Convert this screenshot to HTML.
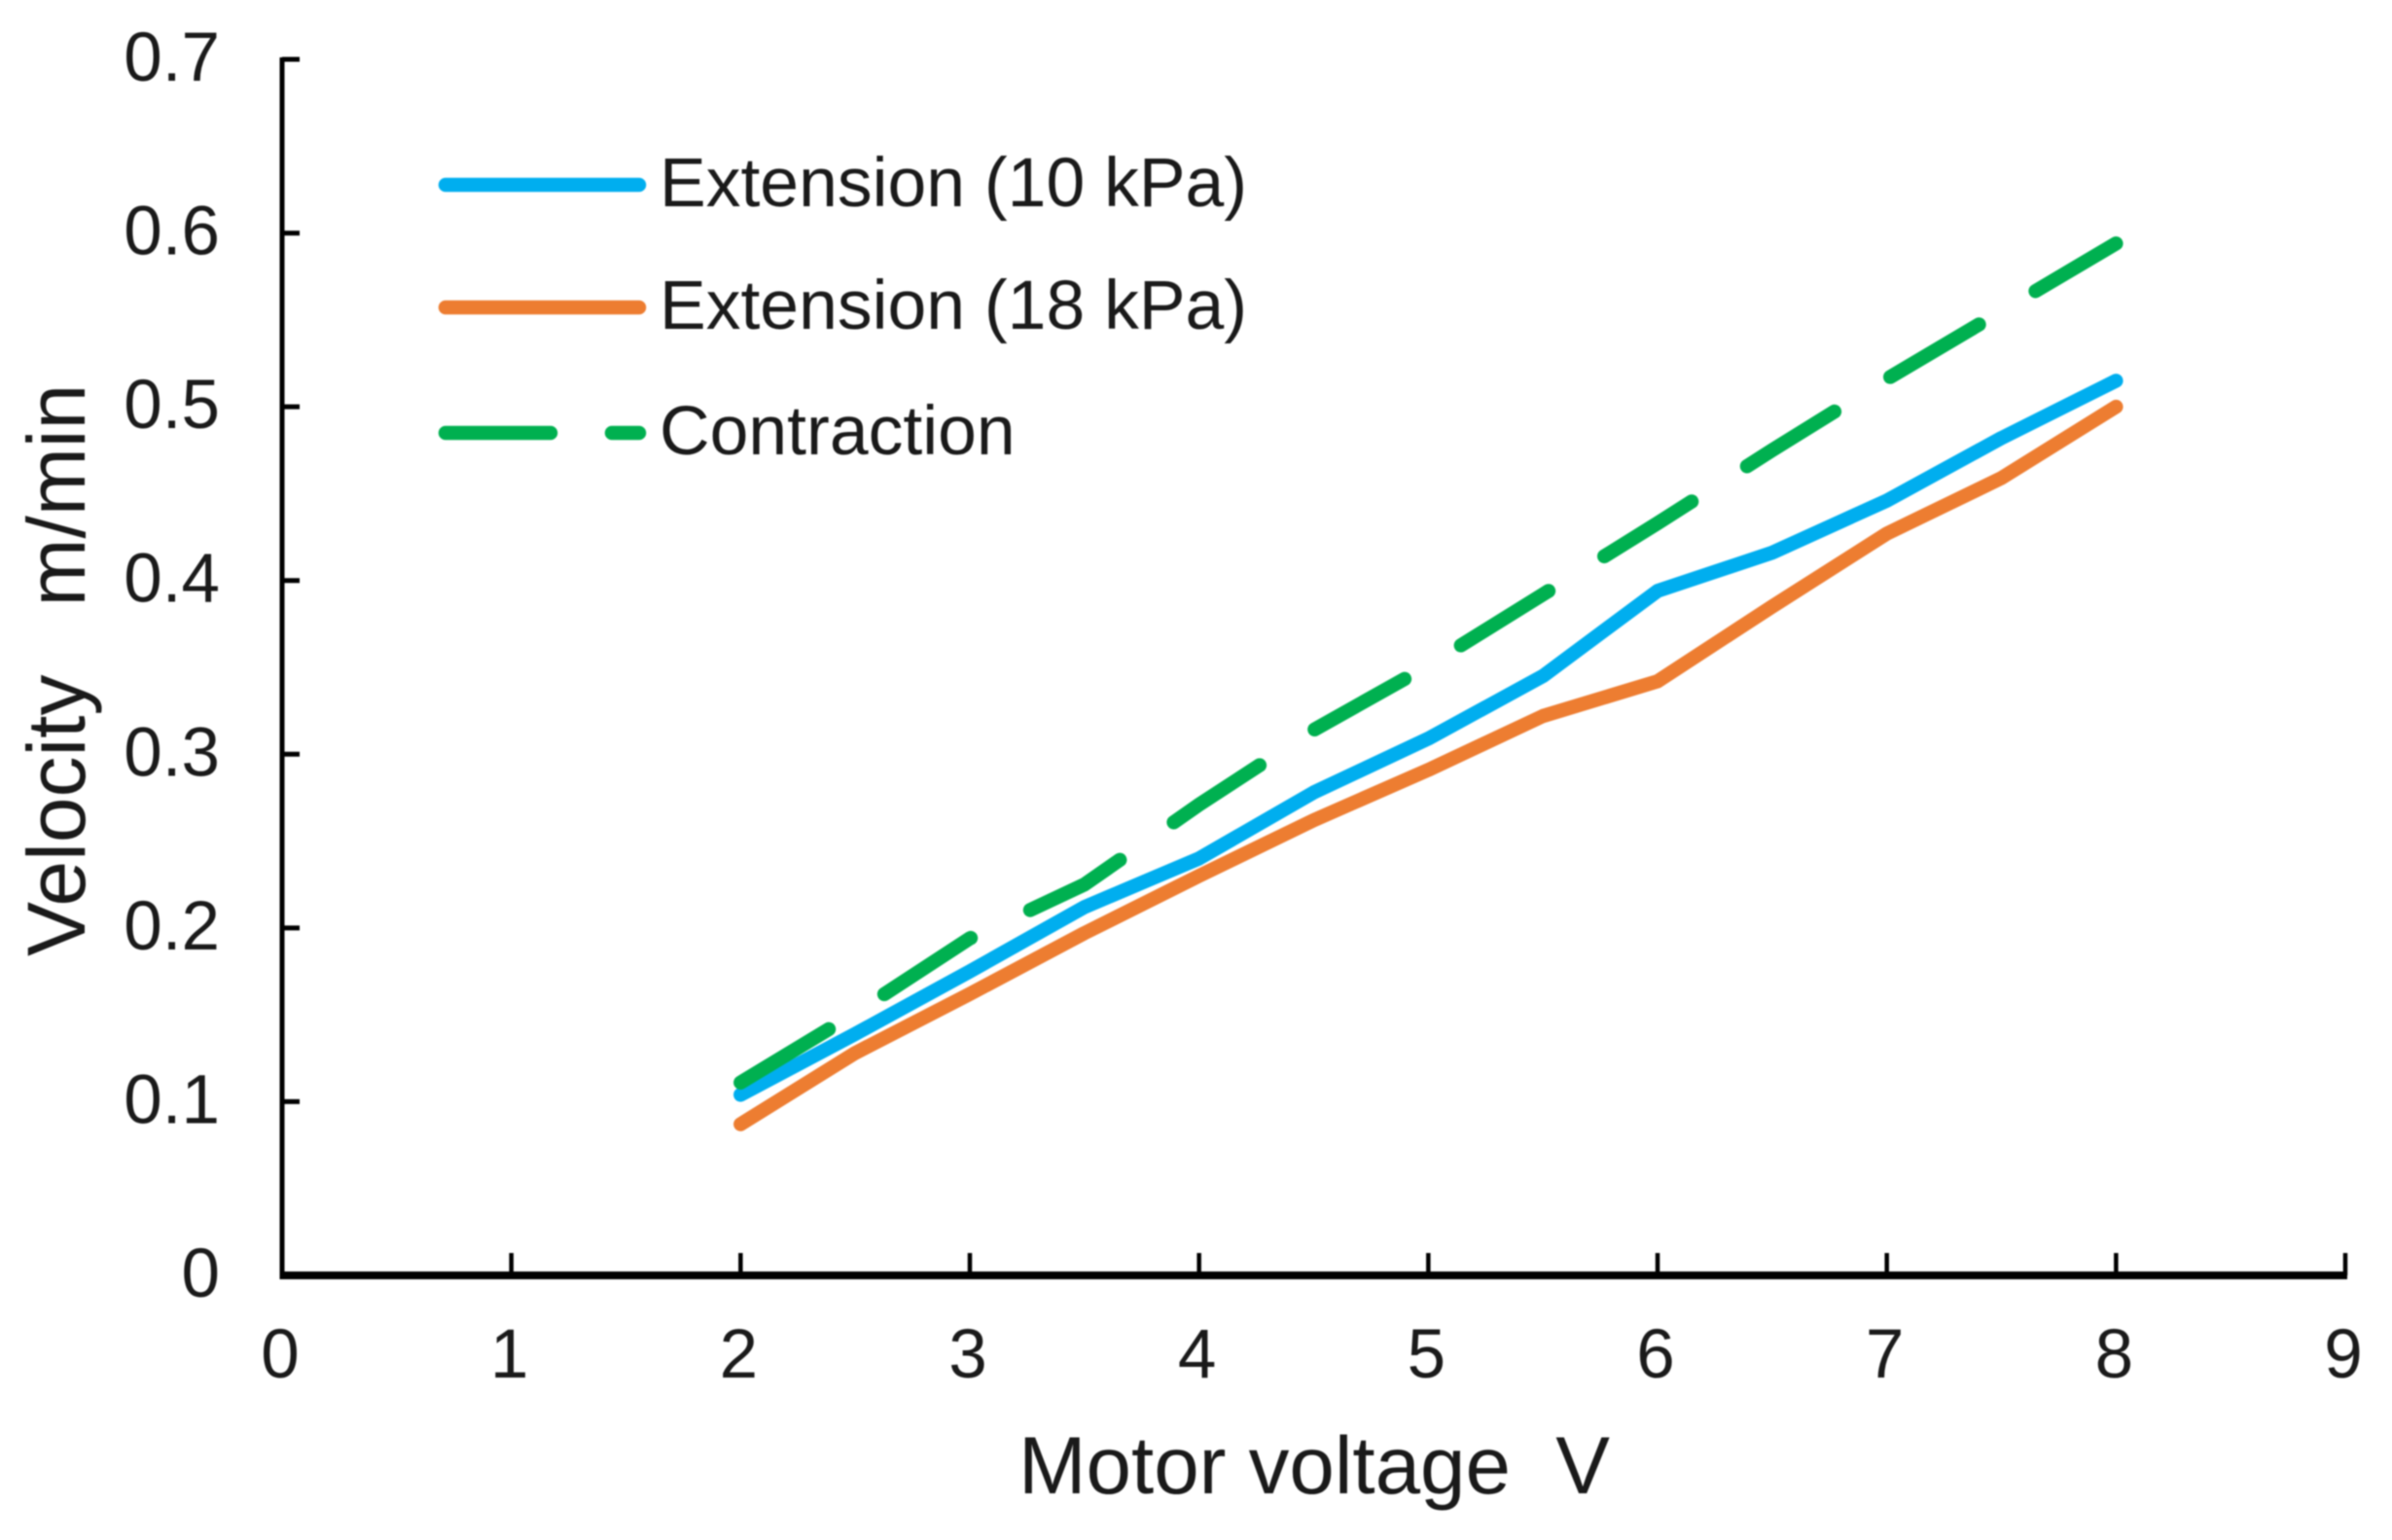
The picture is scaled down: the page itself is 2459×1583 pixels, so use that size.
<!DOCTYPE html>
<html lang="en">
<head>
<meta charset="utf-8">
<title>Motor voltage vs velocity</title>
<style>
html,body{margin:0;padding:0;background:#fff;}
svg{display:block;}
text{font-family:"Liberation Sans",Arial,sans-serif;fill:#1a1a1a;white-space:pre;}
</style>
</head>
<body>
<svg id="chart" xmlns="http://www.w3.org/2000/svg" width="2459" height="1583" viewBox="0 0 2459 1583">
  <rect x="0" y="0" width="2459" height="1583" fill="#ffffff"/>
  <g id="plot" style="filter:blur(0.8px)">
    <g id="axes"></g>
    <g id="series"></g>
    <g>
      <line x1="458" y1="190" x2="657" y2="190" stroke="#00aeef" stroke-width="14.5" stroke-linecap="round"/>
      <text x="678" y="212" font-size="71.5">Extension (10 kPa)</text>
      <line x1="458" y1="316" x2="657" y2="316" stroke="#ed7d31" stroke-width="14.5" stroke-linecap="round"/>
      <text x="678" y="338" font-size="71.5">Extension (18 kPa)</text>
      <line x1="458" y1="445" x2="657" y2="445" stroke="#00b050" stroke-width="14.5" stroke-linecap="round" stroke-dasharray="108 63"/>
      <text x="678" y="467" font-size="71.5">Contraction</text>
    </g>
    <text x="1047" y="1535" font-size="83.5">Motor voltage  V</text>
    <text transform="translate(87 983) rotate(-90)" x="0" y="0" font-size="84">Velocity   m/min</text>
  </g>
</svg>
<script>
const voltages = [2, 2.5, 3, 3.5, 4, 4.5, 5, 5.5, 6, 6.5, 7, 7.5, 8];
const extension10kPa = [0.104, 0.139, 0.175, 0.212, 0.240, 0.278, 0.309, 0.345, 0.394, 0.416, 0.446, 0.482, 0.515];
const extension18kPa = [0.087, 0.128, 0.162, 0.197, 0.230, 0.262, 0.291, 0.322, 0.342, 0.385, 0.427, 0.459, 0.500];
const contraction = [0.111, 0.151, 0.194, 0.225, 0.271, 0.314, 0.351, 0.392, 0.433, 0.475, 0.516, 0.555, 0.594];
const xTickValues = [0, 1, 2, 3, 4, 5, 6, 7, 8, 9];
const yTickValues = [0, 0.1, 0.2, 0.3, 0.4, 0.5, 0.6, 0.7];
const xTickLabels = ['0', '1', '2', '3', '4', '5', '6', '7', '8', '9'];
const yTickLabels = ['0', '0.1', '0.2', '0.3', '0.4', '0.5', '0.6', '0.7'];

const NS = 'http://www.w3.org/2000/svg';
const X0 = 290, X1 = 2411, Y0 = 1311, Y1 = 61;
const XMAX = 9, YMAX = 0.7;
function xScale(v) { return X0 + (v / XMAX) * (X1 - X0); }
function yScale(v) { return Y0 - (v / YMAX) * (Y0 - Y1); }

const axes = document.getElementById('axes');
const seriesGroup = document.getElementById('series');

function makeLine(x1, y1, x2, y2, w) {
  const l = document.createElementNS(NS, 'line');
  l.setAttribute('x1', x1);
  l.setAttribute('y1', y1);
  l.setAttribute('x2', x2);
  l.setAttribute('y2', y2);
  l.setAttribute('stroke', '#000');
  l.setAttribute('stroke-width', w);
  return l;
}
function makeText(x, y, anchor, content) {
  const t = document.createElementNS(NS, 'text');
  t.setAttribute('x', x);
  t.setAttribute('y', y);
  t.setAttribute('font-size', 71);
  t.setAttribute('text-anchor', anchor);
  t.textContent = content;
  return t;
}

const yAxisLine = makeLine(X0, Y1 - 2, X0, Y0 + 4, 5);


axes.appendChild(yAxisLine);

const xAxisLine = makeLine(X0 - 2, Y0, X1 + 2, Y0, 8);


axes.appendChild(xAxisLine);

yTickValues.forEach(function (v, i) {
  if (v !== 0) {
    const tick = makeLine(X0, yScale(v), X0 + 18, yScale(v), 5);
    
    
    axes.appendChild(tick);
  }
  const label = makeText(226, yScale(v) + 22, 'end', yTickLabels[i]);
  
  
  axes.appendChild(label);
});

xTickValues.forEach(function (v, i) {
  if (v !== 0) {
    const tick = makeLine(xScale(v), Y0 - 23, xScale(v), Y0, 4.5);
    
    
    axes.appendChild(tick);
  }
  const label = makeText(xScale(v) - 2, 1416, 'middle', xTickLabels[i]);
  
  
  axes.appendChild(label);
});

function makeSeries(values, color, dash) {
  const p = document.createElementNS(NS, 'polyline');
  const pts = values.map(function (v, i) {
    return xScale(voltages[i]).toFixed(1) + ',' + yScale(v).toFixed(1);
  }).join(' ');
  p.setAttribute('points', pts);
  p.setAttribute('fill', 'none');
  p.setAttribute('stroke', color);
  p.setAttribute('stroke-width', 14.5);
  p.setAttribute('stroke-linecap', 'round');
  p.setAttribute('stroke-linejoin', 'round');
  if (dash) p.setAttribute('stroke-dasharray', dash);
  return p;
}

const line10 = makeSeries(extension10kPa, '#00aeef', null);


seriesGroup.appendChild(line10);

const line18 = makeSeries(extension18kPa, '#ed7d31', null);


seriesGroup.appendChild(line18);

const lineContraction = makeSeries(contraction, '#00b050', '106 67.5');


seriesGroup.appendChild(lineContraction);
</script>
</body>
</html>
